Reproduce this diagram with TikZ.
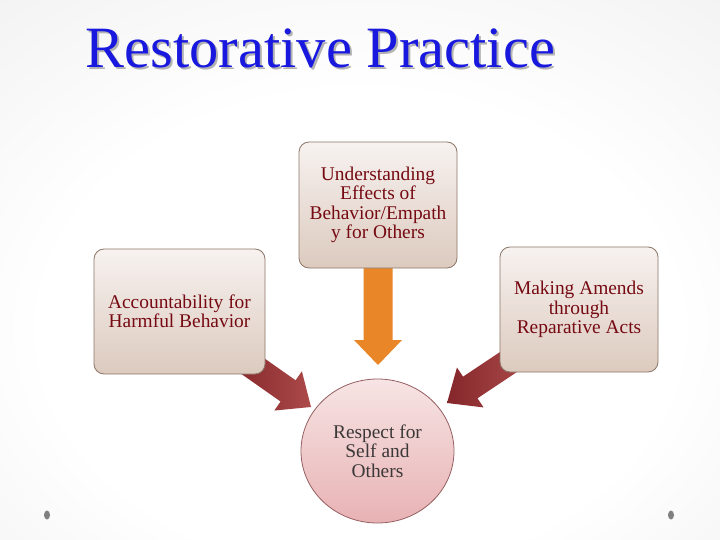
\documentclass[tikz,border=0pt]{standalone}
\usepackage{fontspec}
\usepackage{tikz}
\usetikzlibrary{calc,shapes.geometric}
\usepackage{xcolor}

\setmainfont{Liberation Serif}
\newfontfamily\titlefont{Liberation Serif}

\definecolor{titleblue}{RGB}{24,24,222}
\definecolor{boxtop}{RGB}{247,242,240}
\definecolor{boxbottom}{RGB}{220,202,190}
\definecolor{boxline}{RGB}{140,118,104}
\definecolor{boxtext}{RGB}{118,10,18}
\definecolor{hubtop}{RGB}{247,228,228}
\definecolor{hubbottom}{RGB}{232,178,180}
\definecolor{hubline}{RGB}{150,96,98}
\definecolor{hubtext}{RGB}{60,56,56}
\definecolor{arrowdark}{RGB}{132,38,42}
\definecolor{arrowlight}{RGB}{172,74,74}
\definecolor{arroworange}{RGB}{232,134,40}
\definecolor{dotgray}{RGB}{128,128,128}

\pgfdeclareradialshading{slidebg}{\pgfpoint{0bp}{-8bp}}{color(0bp)=(white); color(22bp)=(white); color(50bp)=(black!8); color(72bp)=(black!22)}

\pgfdeclarelayer{behind}
\pgfsetlayers{behind,main}

% block arrow: tail, tip, half shaft, half head, head length, style
\newcommand{\fatarrow}[6]{%
  \coordinate (hb) at ($(#2)!#5!(#1)$);
  \path[#6] ($(#1)!#3!90:(#2)$) -- ($(hb)!#3!90:(#2)$) -- ($(hb)!#4!90:(#2)$)
    -- (#2) -- ($(hb)!#4!-90:(#2)$) -- ($(hb)!#3!-90:(#2)$) -- ($(#1)!#3!-90:(#2)$) -- cycle;}

\begin{document}
\begin{tikzpicture}[x=1pt,y=-1pt,font=\fontsize{19.4}{19.5}\selectfont]
      \tikzstyle{box}=[rectangle,rounded corners=10pt,draw=boxline,line width=0.8pt,top color=boxtop,bottom color=boxbottom,text=boxtext,align=center,inner sep=0pt]
      \tikzstyle{hub}=[ellipse,draw=hubline,line width=0.8pt,top color=hubtop,bottom color=hubbottom,text=hubtext,align=center,inner sep=0pt,minimum width=153pt,minimum height=144pt]
      \tikzstyle{red arrow}=[left color=arrowdark,right color=arrowlight]
      \tikzstyle{orange arrow}=[fill=arroworange]
      \useasboundingbox (0,0) rectangle (720,540);
      % title
      \node(shadow)[anchor=base west,text=black!30,font=\titlefont\fontsize{58.5}{60}\selectfont] at (84,70) {Restorative Practice};
      \node(title)[anchor=base west,text=titleblue,font=\titlefont\fontsize{58.5}{60}\selectfont] at (82,68) {Restorative Practice};
      % boxes
      \node(effects)[box,minimum width=158pt,minimum height=126pt] at (378,205) {Understanding\\Effects of\\Behavior/Empath\\y for Others};
      \node(account)[box,minimum width=171pt,minimum height=125pt] at (179.5,311.5) {Accountability for\\Harmful Behavior};
      \node(amends)[box,minimum width=158pt,minimum height=125pt] at (579,309.5) {Making Amends\\through\\Reparative Acts};
      \node(respect)[hub] at (377.5,451) {Respect for\\Self and\\Others};
      % arrow ends
      \coordinate(accTail) at (237,355);
      \coordinate(accTip) at (311,407);
      \coordinate(amdTail) at (522,353);
      \coordinate(amdTip) at (447,403);
      \coordinate(effTip) at (378,365);
      \begin{pgfonlayer}{behind}
          \shade[shading=slidebg] (0,0) rectangle (720,540);
          \fill[dotgray] (47,515) ellipse (3 and 4.5);
          \fill[dotgray] (671,515) ellipse (3 and 4.5);
          \fatarrow{effects.center}{effTip}{14.5pt}{24pt}{25pt}{orange arrow}
          \fatarrow{accTail}{accTip}{13pt}{24pt}{28pt}{red arrow}
          \fatarrow{amdTail}{amdTip}{13pt}{24pt}{28pt}{red arrow}
      \end{pgfonlayer}
\end{tikzpicture}
\end{document}
